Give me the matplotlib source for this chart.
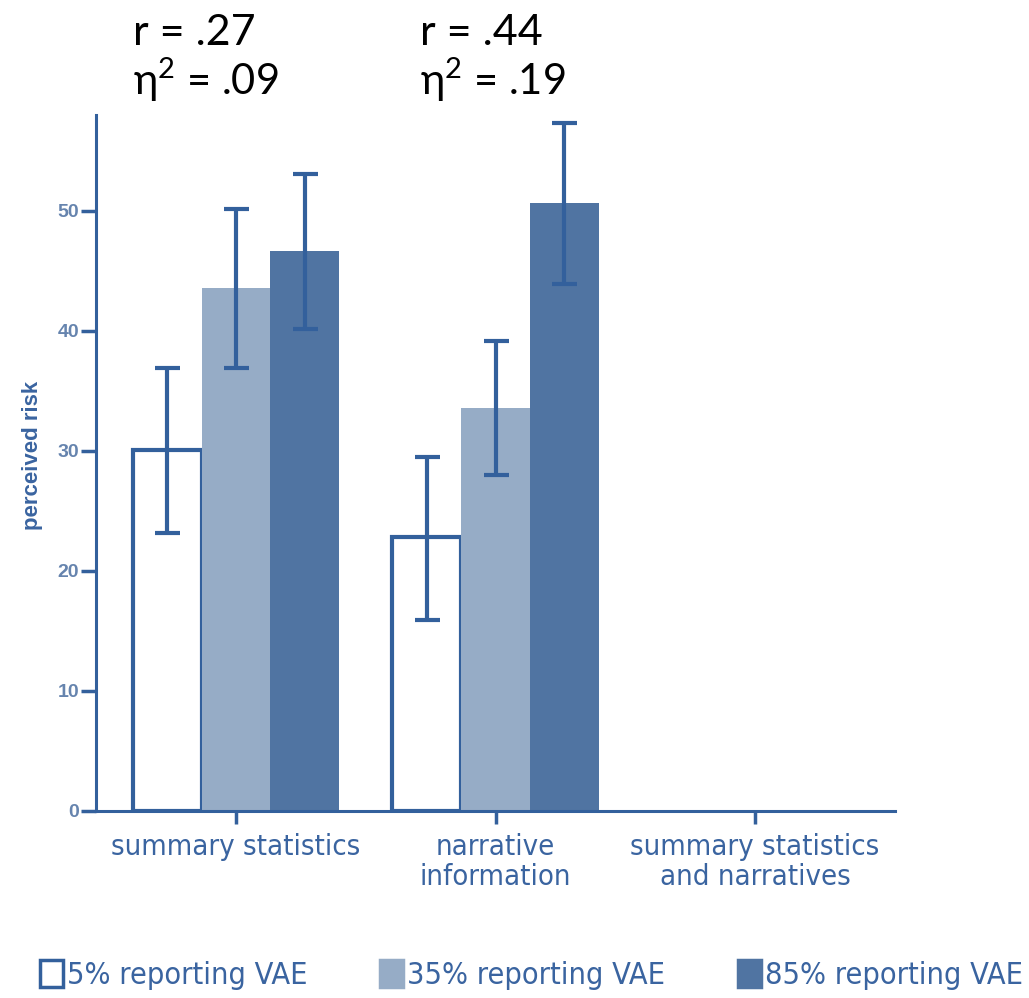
import matplotlib.pyplot as plt
import matplotlib.patches as mpatches
import numpy as np

# Data
categories = ['summary statistics', 'narrative\ninformation', 'summary statistics\nand narratives']
series_names = ['5% reporting VAE', '35% reporting VAE', '85% reporting VAE']
means = {
    '5% reporting VAE': [30.1, 22.8, 0],
    '35% reporting VAE': [43.6, 33.6, 0],
    '85% reporting VAE': [46.7, 50.7, 0],
}
err_low = {
    '5% reporting VAE': [23.2, 15.9, None],
    '35% reporting VAE': [36.9, 28.0, None],
    '85% reporting VAE': [40.2, 43.9, None],
}
err_high = {
    '5% reporting VAE': [36.9, 29.5, None],
    '35% reporting VAE': [50.2, 39.2, None],
    '85% reporting VAE': [53.1, 57.3, None],
}
r_text = ['r = .27', 'r = .44']
eta_text = ['$\\mathregular{\\eta^2}$ = .09', '$\\mathregular{\\eta^2}$ = .19']

edge = '#33609C'
face_colors = ['white', '#96ACC6', '#5074A2']
label_color = '#3A64A0'
tick_color = '#6684AE'
narrow = {'family': 'DejaVu Sans', 'stretch': 'condensed'}

fig = plt.figure(figsize=(10.29, 9.98), dpi=100)
ax = fig.add_axes([0.0933, 0.1874, 0.7765, 0.6974])

x = np.arange(len(categories))
width = 0.265
for i, name in enumerate(series_names):
    xpos = x + (i - 1) * width
    lw = [3 if (i == 0 and v > 0) else 0 for v in means[name]]
    ax.bar(xpos, means[name], width, color=face_colors[i],
           edgecolor=edge, linewidth=lw, zorder=2)
    for j in range(len(categories)):
        lo, hi = err_low[name][j], err_high[name][j]
        if lo is None:
            continue
        m = means[name][j]
        ax.errorbar(xpos[j], m, yerr=[[m - lo], [hi - m]], fmt='none',
                    ecolor=edge, elinewidth=3, capsize=9, capthick=3, zorder=3)

ax.set_xlim(-0.54, 2.54)
ax.set_ylim(0, 58)
ax.set_yticks([0, 10, 20, 30, 40, 50])
ax.set_xticks(x)
ax.set_xticklabels(categories, fontsize=21, color=label_color,
                   linespacing=1.1, **narrow)
for lab in ax.get_yticklabels():
    lab.set_color(tick_color)
    lab.set_fontweight('bold')
    lab.set_fontsize(14)
    lab.set_family('Liberation Sans')
ax.set_ylabel('perceived risk', fontsize=16, fontweight='bold', color=label_color,
              family='Liberation Sans')
ax.yaxis.set_label_coords(-0.066, 0.511)

for s in ['top', 'right']:
    ax.spines[s].set_visible(False)
for s in ['left', 'bottom']:
    ax.spines[s].set_color(edge)
    ax.spines[s].set_linewidth(2.2)
ax.tick_params(axis='y', length=11, width=2.5, color=edge, pad=1)
ax.tick_params(axis='x', length=9, width=2.5, color=edge, pad=7)

# effect size annotations
for k, xpix in enumerate([133, 420]):
    fig.text(xpix / 1029, 1 - 45 / 998, r_text[k], fontsize=31, family='Lato',
             va='baseline', ha='left')
    fig.text(xpix / 1029, 1 - 95 / 998, eta_text[k], fontsize=30, family='Lato',
             va='baseline', ha='left')

handles = [mpatches.Patch(facecolor=face_colors[i],
                          edgecolor=edge if i == 0 else face_colors[i],
                          linewidth=2.5, label=series_names[i]) for i in range(3)]
leg = fig.legend(handles=handles, loc='lower left', bbox_to_anchor=(40 / 1029, 8 / 998),
                 ncol=3, frameon=False, handlelength=0.75, handleheight=1.0,
                 handletextpad=0.12, columnspacing=2.4, borderpad=0, borderaxespad=0,
                 prop={'family': 'DejaVu Sans', 'stretch': 'condensed', 'size': 22})
for t in leg.get_texts():
    t.set_color(label_color)

fig.savefig('out.png', dpi=100)
